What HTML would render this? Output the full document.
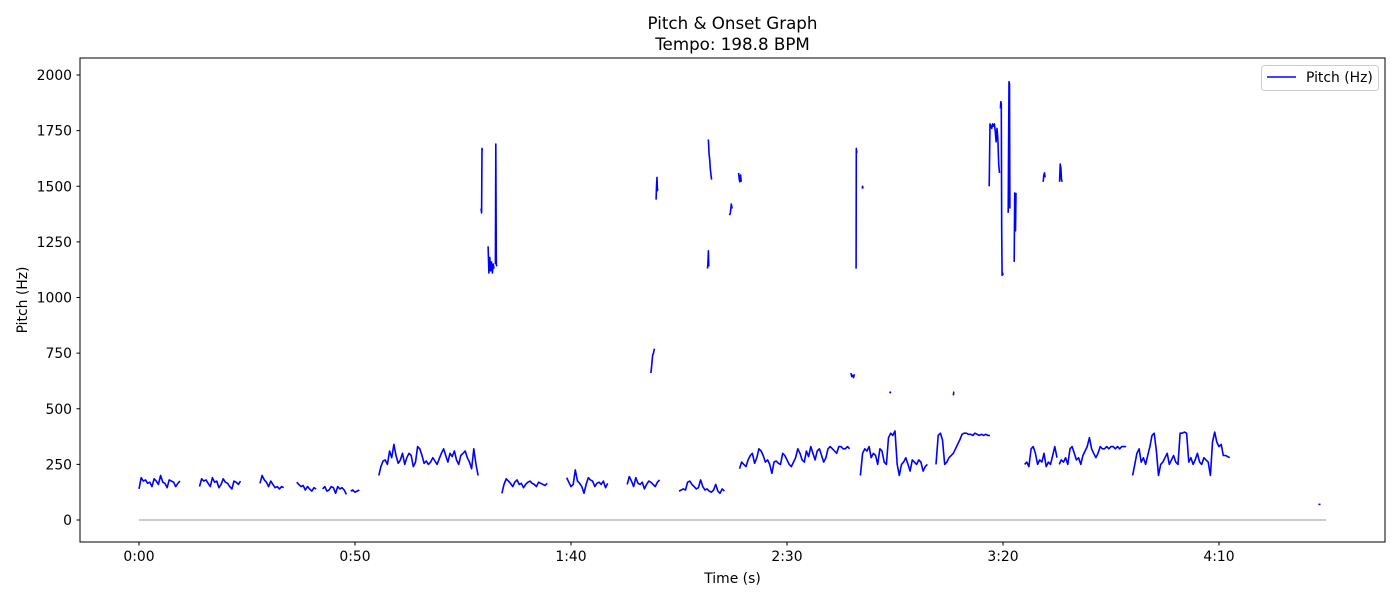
<!DOCTYPE html>
<html><head><meta charset="utf-8"><style>
body{margin:0;background:#fff;}
svg text{font-family:"DejaVu Sans","Liberation Sans",sans-serif;fill:#000;}
</style></head><body>
<svg id="chart" width="1400" height="600" xmlns="http://www.w3.org/2000/svg">
<rect x="0" y="0" width="1400" height="600" fill="#fff"/>
<text x="732.5" y="29" font-size="16.7" text-anchor="middle">Pitch &amp; Onset Graph</text>
<text x="732.5" y="50" font-size="16.7" text-anchor="middle">Tempo: 198.8 BPM</text>
<g id="plot"></g>
<rect x="80" y="58" width="1305" height="484" fill="none" stroke="#000" stroke-width="1"/>
<text x="732.5" y="583" font-size="13.9" text-anchor="middle">Time (s)</text>
<text x="27" y="300" font-size="13.9" text-anchor="middle" transform="rotate(-90 27 300)">Pitch (Hz)</text>
<g>
<rect x="1261.5" y="65.5" width="117" height="25" fill="#fff" stroke="#ccc" rx="3"/>
<line x1="1267" y1="77" x2="1296" y2="77" stroke="#0000ff" stroke-width="1.5"/>
<text x="1306" y="82" font-size="13.9">Pitch (Hz)</text>
</g>
</svg>
<script>
const xTicks=[0,50,100,150,200,250];
const xTickLabels=["0:00","0:50","1:40","2:30","3:20","4:10"];
const yTicks=[0,250,500,750,1000,1250,1500,1750,2000];
const segStarts=[0,14,28,36.5,42.5,49,55.5,84,99,113,125,139,167,184.5,205,213,230,273,
79.2,80.8,82.5,118.5,119.7,131.6,131.8,136.7,138.8,164.8,166,167.4,173.8,188.5,196.8,199.4,201.2,202.6,209.3,213.1];
const segSteps=[0.5,0.5,0.5,0.5,0.5,0.5,0.5,0.5,0.5,0.5,0.5,0.5,0.5,0.5,0.5,0.5,0.5,0.5,
0.1,0.2,0.1,0.2,0.1,0.1,0.15,0.2,0.15,0.2,0.05,0.1,0.1,0.1,0.2,0.1,0.1,0.1,0.15,0.15];
const segValues=[
[140,190,175,180,165,170,150,185,175,160,200,170,165,145,180,175,170,150,165,175],
[150,185,175,180,165,150,190,170,175,145,160,185,170,165,150,140,175,170,160,175],
[165,200,180,170,150,175,160,145,150,140,150,145],
[170,160,150,155,135,150,140,130,145,140],
[140,150,130,135,150,145,120,150,140,145,135,115],
[130,135,125,130,135],
[200,240,265,270,250,310,280,340,290,255,270,300,250,280,300,290,240,260,330,320,290,255,265,250,260,280,265,250,275,300,320,290,260,300,285,310,270,250,290,300,310,280,260,230,320,250,200],
[120,160,185,175,165,150,170,180,160,165,145,160,170,175,165,160,150,170,165,160,155,165],
[190,170,150,160,225,175,165,150,120,160,190,180,175,150,165,170,160,175,145,165],
[160,195,175,150,190,165,160,170,140,160,175,170,160,150,170,180],
[130,135,140,135,170,175,160,150,140,145,180,150,135,140,130,125,135,160,130,120,140,130],
[230,260,250,240,270,290,300,255,280,320,310,290,260,270,250,210,260,265,255,250,300,290,270,250,240,260,280,320,300,270,260,310,285,330,300,270,310,320,290,260,280,320,330,320,310,300,330,330,320,320,330,320],
[200,300,320,310,330,280,300,290,250,320,310,260,250,370,390,380,400,250,200,250,260,280,250,220,270,260,250,270,260,220,240,250],
[250,380,390,360,250,260,280,290,300,320,340,360,385,390,390,385,385,380,390,385,380,385,380,385,380,380],
[250,260,240,320,330,300,250,270,260,300,240,260,250,290,330,280],
[250,270,260,280,250,320,330,300,270,280,250,290,310,330,370,320,300,280,300,330,320,320,330,320,330,330,320,330,320,330,330,330],
[200,250,300,320,260,280,250,290,330,380,390,310,200,250,260,280,300,250,270,290,260,250,390,390,395,390,260,280,250,270,300,260,250,280,270,260,200,350,395,350,330,340,290,290,285,280],
[70,70],
[1400,1380,1670,1660],
[1230,1110,1180,1120,1160,1110,1150,1130],
[1150,1690,1150,1140],
[660,700,740,750,770],
[1440,1500,1540,1480,1490],
[1130,1150,1210,1140],
[1710,1650,1620,1580,1550,1530],
[1370,1380,1420,1400],
[1560,1530,1520,1550,1520],
[660,645,650,640,655],
[1130,1670,1650,1660],
[1490,1500,1490],
[570,575,570],
[560,575,575],
[1500,1780,1770,1760,1780,1770,1780,1750,1700,1760,1720,1600,1560],
[1850,1880,1870,1300,1100,1110,1100],
[1380,1700,1970,1960,1400],
[1160,1470,1460,1300,1470],
[1520,1550,1560,1540],
[1520,1600,1580,1530,1520]
];
const baselineEnd=274.8;

const NS="http://www.w3.org/2000/svg";
const X0=139, XS=4.32, Y0=520, YS=0.2225;
function xPos(t){return X0+t*XS;}
function yPos(v){return Y0-v*YS;}
const plot=document.getElementById('plot');
const svg=document.getElementById('chart');
function mk(tag,attrs,parent){const e=document.createElementNS(NS,tag);for(const k in attrs)e.setAttribute(k,attrs[k]);(parent||svg).appendChild(e);return e;}

xTicks.forEach((t,i)=>{
  const l=mk('line',{x1:xPos(t),x2:xPos(t),y1:542,y2:545.5,stroke:'#000'});
  
  
  const tx=mk('text',{x:xPos(t),y:561,'font-size':13.9,'text-anchor':'middle'});
  
  
  tx.textContent=xTickLabels[i];
});
yTicks.forEach(v=>{
  const l=mk('line',{x1:76.5,x2:80,y1:yPos(v),y2:yPos(v),stroke:'#000'});
  
  
  const tx=mk('text',{x:72,y:yPos(v)+5,'font-size':13.9,'text-anchor':'end'});
  
  
  tx.textContent=v;
});
const base=mk('line',{x1:xPos(0),x2:xPos(baselineEnd),y1:yPos(0),y2:yPos(0),stroke:'#bbb','stroke-width':1.5},plot);


segValues.forEach((vals,i)=>{
  const pts=vals.map((v,j)=>xPos(segStarts[i]+j*segSteps[i]).toFixed(1)+','+yPos(v).toFixed(1)).join(' ');
  const p=mk('polyline',{points:pts,fill:'none',stroke:'#0000ff','stroke-width':1.6,'stroke-linejoin':'round'},plot);
  
  
});
</script>
</body></html>
